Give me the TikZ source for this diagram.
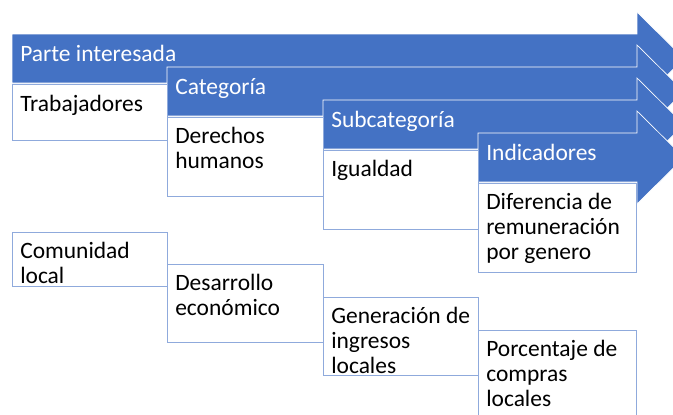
\documentclass[tikz,border=0pt]{standalone}
\usepackage{fontspec}
\setmainfont{Carlito}

\begin{document}
\begin{tikzpicture}[x=0.75pt,y=0.75pt,yscale=-1,xscale=1,
		steparrow/.style={fill={rgb, 255:red, 68; green, 114; blue, 196 }, draw={rgb, 255:red, 255; green, 255; blue, 255 }, line width=0.5},
		cellbox/.style={fill=white, draw={rgb, 255:red, 143; green, 170; blue, 220 }, line width=0.75},
		headtxt/.style={anchor=base west, inner sep=0pt, text=white, font=\fontsize{17.6pt}{18.75pt}\selectfont},
		celltxt/.style={anchor=base west, inner sep=0pt, align=left, font=\fontsize{17.6pt}{18.75pt}\selectfont}]
		\path [use as bounding box] (0,0) rectangle (673,414) ;
		\clip (0,0) rectangle (673,414) ;
		\draw  [steparrow] (12,34) -- (637,34) -- (637,12) -- (684,58.5) -- (637,105) -- (637,83) -- (12,83) -- cycle ;
		\draw  [steparrow] (167,67) -- (637,67) -- (637,45) -- (684,91.5) -- (637,138) -- (637,116) -- (167,116) -- cycle ;
		\draw  [steparrow] (323,100) -- (637,100) -- (637,78) -- (684,124.5) -- (637,171) -- (637,149) -- (323,149) -- cycle ;
		\draw  [steparrow] (478,133) -- (637,133) -- (637,111) -- (684,157.5) -- (637,204) -- (637,182) -- (478,182) -- cycle ;
		\draw  [cellbox] (12,84) rectangle (167,140) ;
		\draw  [cellbox] (167,117) rectangle (323,196) ;
		\draw  [cellbox] (323,150) rectangle (478,229) ;
		\draw  [cellbox] (478,183) rectangle (636,272) ;
		\draw  [cellbox] (12,232) rectangle (167,286) ;
		\draw  [cellbox] (167,264) rectangle (323,342) ;
		\draw  [cellbox] (323,297) rectangle (478,375) ;
		\draw  [cellbox] (478,330) rectangle (636,430) ;
		\draw (20,61) node [headtxt] (parte) {Parte interesada};
		\draw (175,94) node [headtxt] (categoria) {Categoría};
		\draw (331,127) node [headtxt] (subcategoria) {Subcategoría};
		\draw (486,160) node [headtxt] (indicadores) {Indicadores};
		\draw (20,111) node [celltxt] (trabajadores) {Trabajadores};
		\draw (175,168) node [celltxt] (derechos) {Derechos\\humanos};
		\draw (331,176) node [celltxt] (igualdad) {Igualdad};
		\draw (486,259) node [celltxt] (diferencia) {Diferencia de\\remuneración\\por genero};
		\draw (20,283) node [celltxt] (comunidad) {Comunidad\\local};
		\draw (175,315) node [celltxt] (desarrollo) {Desarrollo\\económico};
		\draw (331,373) node [celltxt] (generacion) {Generación de\\ingresos\\locales};
		\draw (486,406) node [celltxt] (porcentaje) {Porcentaje de\\compras\\locales};
\end{tikzpicture}
\end{document}
